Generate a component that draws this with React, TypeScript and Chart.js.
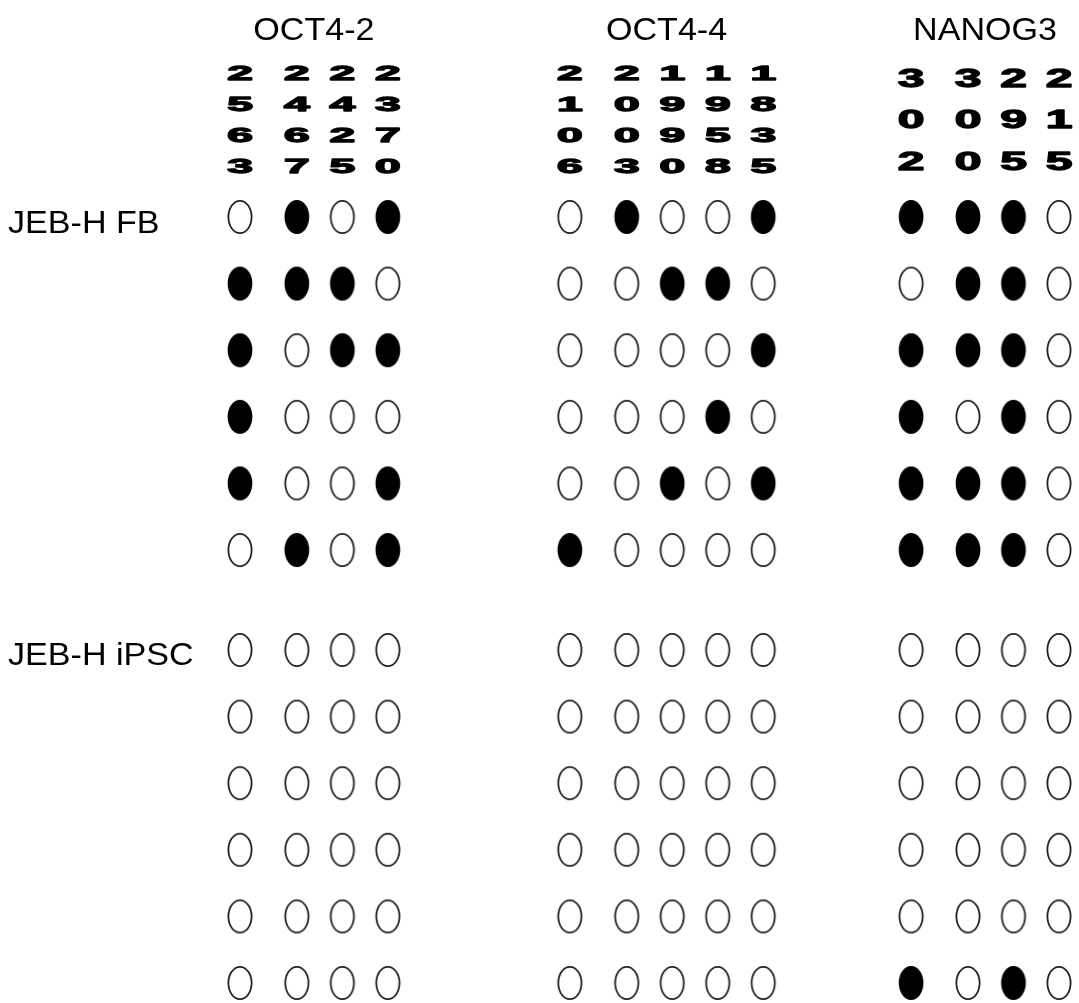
import { useEffect, useRef } from 'react';
import { Chart, registerables } from 'chart.js';

Chart.register(...registerables);

// ---------------- data ----------------
const GROUPS = ['OCT4-2', 'OCT4-4', 'NANOG3'];
const SAMPLES = ['JEB-H FB', 'JEB-H iPSC'];

// CpG site labels (read vertically in the figure)
const OCT4_2_SITES = ['2563', '2467', '2425', '2370'];
const OCT4_4_SITES = ['2106', '2003', '1990', '1958', '1835'];
const NANOG3_SITES = ['302', '300', '295', '215'];

// 1 = methylated (filled), 0 = unmethylated (open); one row per clone
const OCT4_2_FB = [
  [0, 1, 0, 1],
  [1, 1, 1, 0],
  [1, 0, 1, 1],
  [1, 0, 0, 0],
  [1, 0, 0, 1],
  [0, 1, 0, 1],
];
const OCT4_2_IPSC = [
  [0, 0, 0, 0],
  [0, 0, 0, 0],
  [0, 0, 0, 0],
  [0, 0, 0, 0],
  [0, 0, 0, 0],
  [0, 0, 0, 0],
];
const OCT4_4_FB = [
  [0, 1, 0, 0, 1],
  [0, 0, 1, 1, 0],
  [0, 0, 0, 0, 1],
  [0, 0, 0, 1, 0],
  [0, 0, 1, 0, 1],
  [1, 0, 0, 0, 0],
];
const OCT4_4_IPSC = [
  [0, 0, 0, 0, 0],
  [0, 0, 0, 0, 0],
  [0, 0, 0, 0, 0],
  [0, 0, 0, 0, 0],
  [0, 0, 0, 0, 0],
  [0, 0, 0, 0, 0],
];
const NANOG3_FB = [
  [1, 1, 1, 0],
  [0, 1, 1, 0],
  [1, 1, 1, 0],
  [1, 0, 1, 0],
  [1, 1, 1, 0],
  [1, 1, 1, 0],
];
const NANOG3_IPSC = [
  [0, 0, 0, 0],
  [0, 0, 0, 0],
  [0, 0, 0, 0],
  [0, 0, 0, 0],
  [0, 0, 0, 0],
  [1, 0, 1, 0],
];

// ---------------- layout (not data) ----------------
const COL_X = [
  [0, 1.25, 2.25, 3.25],
  [7.25, 8.5, 9.5, 10.5, 11.5],
  [14.75, 16, 17, 18],
];
const SAMPLE_ROW0 = [0, 6.5];
// per-group digit label layout: first row centre, pitch, glyph height
const DIGIT_LAYOUT = [
  { first: 73, pitch: 31, h: 16.5 },
  { first: 73, pitch: 31, h: 16.5 },
  { first: 77.5, pitch: 41.5, h: 20 },
];
const DIGIT_W = 26;
const DIGIT_STROKE = 1.3;
const W = 1079;
const H = 1003;

function makeEllipse(filled: boolean): HTMLCanvasElement {
  const c = document.createElement('canvas');
  c.width = 28;
  c.height = 38;
  const g = c.getContext('2d')!;
  g.beginPath();
  g.ellipse(14, 19, 11.6, 16.2, 0, 0, Math.PI * 2);
  g.fillStyle = filled ? '#000' : '#fff';
  g.fill();
  g.lineWidth = filled ? 1.5 : 1.8;
  g.strokeStyle = filled ? '#000' : '#222';
  g.stroke();
  return c;
}

export default function App() {
  const ref = useRef<HTMLCanvasElement | null>(null);

  useEffect(() => {
    const canvas = ref.current;
    if (!canvas) return;

    const groupData = [
      { name: GROUPS[0], sites: OCT4_2_SITES, mats: [OCT4_2_FB, OCT4_2_IPSC] },
      { name: GROUPS[1], sites: OCT4_4_SITES, mats: [OCT4_4_FB, OCT4_4_IPSC] },
      { name: GROUPS[2], sites: NANOG3_SITES, mats: [NANOG3_FB, NANOG3_IPSC] },
    ];

    const filled: { x: number; y: number }[] = [];
    const open: { x: number; y: number }[] = [];
    groupData.forEach((gd, g) => {
      gd.mats.forEach((mat, s) => {
        mat.forEach((row, i) => {
          row.forEach((v, j) => {
            const p = { x: COL_X[g][j], y: SAMPLE_ROW0[s] + i };
            (v ? filled : open).push(p);
          });
        });
      });
    });

    const textPlugin = {
      id: 'methylText',
      afterDraw(chart: any) {
        const ctx = chart.ctx as CanvasRenderingContext2D;
        const xs = chart.scales.x;
        const ys = chart.scales.y;
        const fontFam = '"Liberation Sans", Arial, sans-serif';
        const sx = 1.1;
        ctx.save();
        ctx.fillStyle = '#000';
        ctx.strokeStyle = '#000';
        ctx.font = `31px ${fontFam}`;
        ctx.textBaseline = 'alphabetic';
        // group titles
        groupData.forEach((gd, g) => {
          const xsArr = COL_X[g];
          const cx = (xs.getPixelForValue(xsArr[0]) + xs.getPixelForValue(xsArr[xsArr.length - 1])) / 2;
          ctx.save();
          ctx.translate(cx, 39.5);
          ctx.scale(sx, 1);
          ctx.textAlign = 'center';
          ctx.fillText(gd.name, 0, 0);
          ctx.restore();
        });
        // sample labels
        SAMPLES.forEach((lab, s) => {
          const y = ys.getPixelForValue(SAMPLE_ROW0[s]);
          ctx.save();
          ctx.translate(8, y + 15.5);
          ctx.scale(sx, 1);
          ctx.textAlign = 'left';
          ctx.fillText(lab, 0, 0);
          ctx.restore();
        });
        // stacked CpG digits (wide bold)
        groupData.forEach((gd, g) => {
          const lay = DIGIT_LAYOUT[g];
          const hh = lay.h - DIGIT_STROKE;
          const fsize = hh / 0.72;
          ctx.font = `bold ${fsize}px ${fontFam}`;
          const m = ctx.measureText('0');
          const ink = m.actualBoundingBoxLeft + m.actualBoundingBoxRight || fsize * 0.5;
          const asc = m.actualBoundingBoxAscent || hh;
          const dsx = (DIGIT_W - DIGIT_STROKE * 1.5) / ink;
          gd.sites.forEach((site, j) => {
            const cx = xs.getPixelForValue(COL_X[g][j]);
            site.split('').forEach((d, k) => {
              const cy = lay.first + k * lay.pitch;
              ctx.save();
              ctx.translate(cx, cy + asc / 2);
              ctx.scale(dsx, 1);
              ctx.textAlign = 'center';
              ctx.lineJoin = 'round';
              ctx.lineWidth = DIGIT_STROKE;
              ctx.fillText(d, 0, 0);
              ctx.strokeText(d, 0, 0);
              ctx.restore();
            });
          });
        });
        ctx.restore();
      },
    };

    const chart = new Chart(canvas, {
      type: 'scatter',
      data: {
        datasets: [
          {
            label: 'unmethylated',
            data: open,
            pointStyle: makeEllipse(false) as any,
            pointRadius: 12,
            clip: false as any,
          },
          {
            label: 'methylated',
            data: filled,
            pointStyle: makeEllipse(true) as any,
            pointRadius: 12,
            clip: false as any,
          },
        ],
      },
      options: {
        animation: false,
        responsive: false,
        devicePixelRatio: 1,
        layout: { padding: { left: 240, right: 20, top: 217, bottom: 20 } },
        plugins: {
          legend: { display: false },
          tooltip: { enabled: false },
        },
        scales: {
          x: { type: 'linear', min: 0, max: 18, display: false },
          y: { type: 'linear', min: 0, max: 11.5, reverse: true, display: false },
        },
      },
      plugins: [textPlugin],
    });

    return () => chart.destroy();
  }, []);

  return (
    <div style={{ position: 'absolute', left: 0, top: 0, width: W, height: H, background: '#fff' }}>
      <canvas ref={ref} width={W} height={H} style={{ display: 'block', width: W, height: H }} />
    </div>
  );
}
